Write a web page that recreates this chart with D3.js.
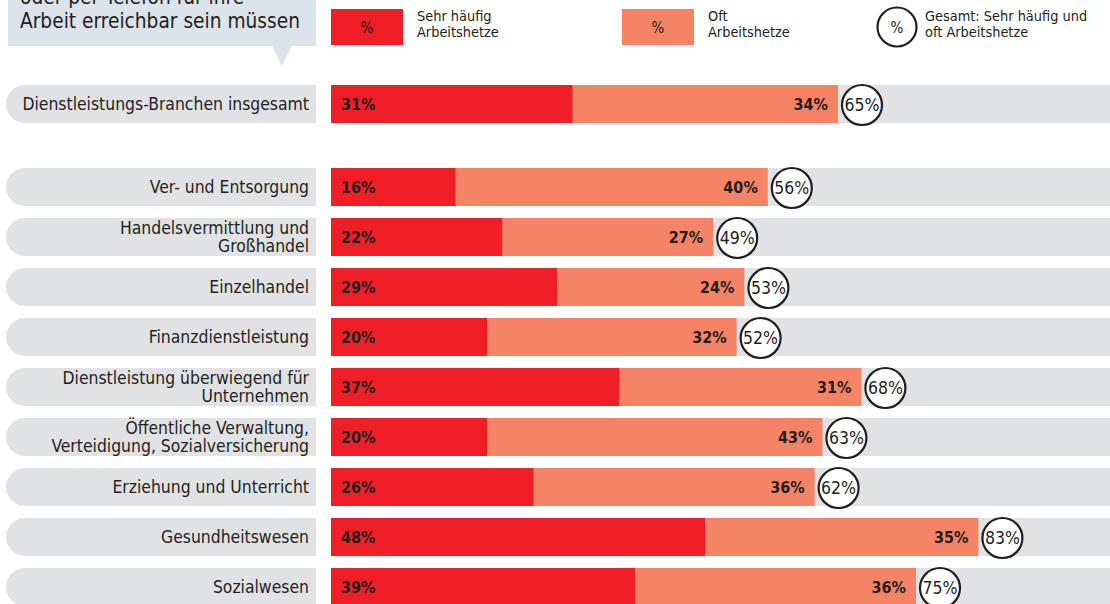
<!DOCTYPE html>
<html><head><meta charset="utf-8">
<script src="https://cdn.jsdelivr.net/npm/d3@7"></script>
<style>
body{margin:0;background:#fff;}
svg{display:block;font-family:"DejaVu Sans Condensed","DejaVu Sans",sans-serif;}
</style></head>
<body>
<svg id="c" width="1110" height="604"></svg>
<script>
const categories = [
  ["Dienstleistungs-Branchen insgesamt"],
  ["Ver- und Entsorgung"],
  ["Handelsvermittlung und","Großhandel"],
  ["Einzelhandel"],
  ["Finanzdienstleistung"],
  ["Dienstleistung überwiegend für","Unternehmen"],
  ["Öffentliche Verwaltung,","Verteidigung, Sozialversicherung"],
  ["Erziehung und Unterricht"],
  ["Gesundheitswesen"],
  ["Sozialwesen"]
];
const sehrHaeufig = [31,16,22,29,20,37,20,26,48,39];
const oft         = [34,40,27,24,32,31,43,36,35,36];
const gesamt      = [65,56,49,53,52,68,63,62,83,75];
const titleLines = ["oder per Telefon für ihre","Arbeit erreichbar sein müssen"];
const legendItems = [
  {label:["Sehr häufig","Arbeitshetze"], kind:"red"},
  {label:["Oft","Arbeitshetze"], kind:"orange"},
  {label:["Gesamt: Sehr häufig und","oft Arbeitshetze"], kind:"circle"}
];

const RED="#ee1f26", ORANGE="#f58466", GRAY="#e1e2e4", DARK="#231f20", TITLEBG="#dde3ea";
const svg = d3.select("#c");

const x = d3.scaleLinear().domain([0,100]).range([331,1111]);
const barH = 38;
// first (total) row separated from the industry rows
const yMain = d3.scaleBand().domain(d3.range(1,categories.length)).range([168,168+9*50-12]).paddingInner(12/50).paddingOuter(0);
const yPos = i => i===0 ? 85 : yMain(i);

// title box
const tb = svg.append("g");
tb.append("path").attr("d","M8,-2 L316,-2 L316,46 L292,46 L282,66 L272,46 L8,46 Z").attr("fill",TITLEBG);
tb.selectAll("text").data(titleLines).join("text")
  .attr("x",20).attr("y",(d,i)=>4+i*24).attr("font-size",20.7).attr("fill",DARK).text(d=>d);

// legend
const lx = [331,622,897];
legendItems.forEach((it,i)=>{
  const g = svg.append("g");
  if(it.kind==="circle"){
    g.append("circle").attr("cx",lx[i]).attr("cy",27).attr("r",19.5).attr("fill","#fff").attr("stroke",DARK).attr("stroke-width",2.2);
    g.append("text").attr("x",lx[i]).attr("y",32.5).attr("text-anchor","middle").attr("font-size",15).attr("fill",DARK).text("%");
    g.selectAll("text.l").data(it.label).join("text").attr("class","l")
      .attr("x",lx[i]+28).attr("y",(d,j)=>21+j*16).attr("font-size",14.4).attr("fill",DARK).text(d=>d);
  } else {
    g.append("rect").attr("x",lx[i]).attr("y",9).attr("width",72).attr("height",36).attr("fill",it.kind==="red"?RED:ORANGE);
    g.append("text").attr("x",lx[i]+36).attr("y",32.5).attr("text-anchor","middle").attr("font-size",15).attr("fill",DARK).text("%");
    g.selectAll("text.l").data(it.label).join("text").attr("class","l")
      .attr("x",lx[i]+86).attr("y",(d,j)=>21+j*16).attr("font-size",14.4).attr("fill",DARK).text(d=>d);
  }
});

// rows
const rows = svg.selectAll("g.row").data(categories.map((c,i)=>({c,i,r:sehrHaeufig[i],o:oft[i],t:gesamt[i]})))
  .join("g").attr("class","row").attr("transform",d=>`translate(0,${yPos(d.i)})`);

// label pill
rows.append("path").attr("d",`M${6+barH/2},0 L316,0 L316,${barH} L${6+barH/2},${barH} A${barH/2},${barH/2} 0 0 1 ${6+barH/2},0 Z`).attr("fill",GRAY);
rows.each(function(d){
  const g = d3.select(this);
  const n = d.c.length;
  const lh = 18;
  g.selectAll("text.cat").data(d.c).join("text").attr("class","cat")
    .attr("x",309).attr("y",(t,j)=> barH/2 + 6 + (j-(n-1)/2)*lh)
    .attr("text-anchor","end").attr("font-size",17.4).attr("fill",DARK).text(t=>t);
});
// background bar
rows.append("rect").attr("x",x(0)).attr("y",0).attr("width",x(100)-x(0)).attr("height",barH).attr("fill",GRAY);
rows.append("rect").attr("x",x(0)).attr("y",0).attr("width",d=>x(d.r)-x(0)).attr("height",barH).attr("fill",RED);
rows.append("rect").attr("x",d=>x(d.r)).attr("y",0).attr("width",d=>x(d.r+d.o)-x(d.r)).attr("height",barH).attr("fill",ORANGE);
rows.append("text").attr("x",x(0)+10).attr("y",barH/2+6).attr("font-size",16).attr("font-weight","bold").attr("fill",DARK).text(d=>d.r+"%");
rows.append("text").attr("x",d=>x(d.r+d.o)-10).attr("y",barH/2+6).attr("text-anchor","end").attr("font-size",16).attr("font-weight","bold").attr("fill",DARK).text(d=>d.o+"%");
rows.append("circle").attr("cx",d=>x(d.r+d.o)+24).attr("cy",barH/2+1).attr("r",20).attr("fill","#fff").attr("stroke",DARK).attr("stroke-width",2.2);
rows.append("text").attr("x",d=>x(d.r+d.o)+24).attr("y",barH/2+7).attr("text-anchor","middle").attr("font-size",17.5).attr("fill",DARK).text(d=>d.t+"%");
</script>
</body></html>
